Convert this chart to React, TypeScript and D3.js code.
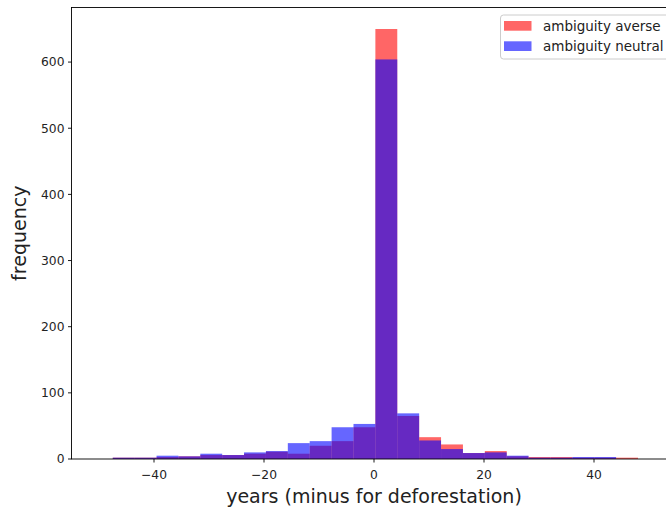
import * as d3 from "d3";

// histogram bin edges (shared by both series)
const binEdges = [
  -47.5, -43.52, -39.54, -35.56, -31.58, -27.6, -23.63, -19.65, -15.67, -11.69,
  -7.71, -3.73, 0.25, 4.23, 8.21, 12.19, 16.17, 20.15, 24.13, 28.1, 32.08,
  36.06, 40.04, 44.02, 48.0,
];
const averseCounts = [2, 2, 3, 4, 6, 6, 8, 11, 8, 20, 27, 48, 650, 65, 33, 22, 9, 12, 4, 3, 3, 2, 2, 2];
const neutralCounts = [2, 2, 5, 4, 8, 6, 10, 12, 24, 27, 48, 53, 604, 69, 28, 15, 9, 10, 5, 2, 2, 3, 3, 0];
const xTicks = [-40, -20, 0, 20, 40];
const yTicks = [0, 100, 200, 300, 400, 500, 600];

const series = [
  { name: "ambiguity averse", color: "red", counts: averseCounts },
  { name: "ambiguity neutral", color: "blue", counts: neutralCounts },
];

const W = 666;
const H = 507;
const margin = { left: 71.5, top: 7.5, right: 676.5, bottom: 459 };
const font = "DejaVu Sans, sans-serif";

export default function App() {
  const x = d3.scaleLinear().domain([-55, 55]).range([margin.left, margin.right]);
  const y = d3.scaleLinear().domain([0, 682.5]).range([margin.bottom, margin.top]);

  return (
    <svg width={W} height={H} style={{ position: "absolute", left: 0, top: 0 }} fontFamily={font}>
      <rect width={W} height={H} fill="white" />
      {series.map((s) => (
        <g key={s.name} fill={s.color} fillOpacity={0.6}>
          {s.counts.map((c, i) =>
            c > 0 ? (
              <rect
                key={i}
                x={x(binEdges[i])}
                width={x(binEdges[i + 1]) - x(binEdges[i])}
                y={y(c)}
                height={y(0) - y(c)}
              />
            ) : null
          )}
        </g>
      ))}

      {/* frame */}
      <rect
        x={margin.left}
        y={margin.top}
        width={margin.right - margin.left}
        height={margin.bottom - margin.top}
        fill="none"
        stroke="black"
        strokeWidth={0.9}
      />

      {/* x axis */}
      {xTicks.map((t) => (
        <g key={t} transform={`translate(${x(t)},${margin.bottom})`}>
          <line y2={3.5} stroke="black" strokeWidth={0.9} />
          <text y={20} textAnchor="middle" fontSize={12.3} fill="#222">
            {t < 0 ? `\u2212${Math.abs(t)}` : t}
          </text>
        </g>
      ))}
      {/* y axis */}
      {yTicks.map((t) => (
        <g key={t} transform={`translate(${margin.left},${y(t)})`}>
          <line x2={-3.5} stroke="black" strokeWidth={0.9} />
          <text x={-7} dy="0.35em" textAnchor="end" fontSize={12.3} fill="#222">
            {t}
          </text>
        </g>
      ))}

      <text x={(margin.left + margin.right) / 2} y={503} textAnchor="middle" fontSize={19} fill="#222">
        years (minus for deforestation)
      </text>
      <text
        transform={`translate(26,${(margin.top + margin.bottom) / 2}) rotate(-90)`}
        textAnchor="middle"
        fontSize={19}
        fill="#222"
      >
        frequency
      </text>

      {/* legend */}
      <g transform="translate(500,15)">
        <rect x={0.5} y={0} width={190} height={44} rx={3} fill="white" fillOpacity={0.8} stroke="#cccccc" />
        {series.map((s, i) => (
          <g key={s.name} transform={`translate(0,${i * 20.3})`}>
            <rect x={4} y={6} width={27.5} height={9.7} fill={s.color} fillOpacity={0.6} />
            <text x={43} y={15.6} fontSize={13.5} fill="#222">
              {s.name}
            </text>
          </g>
        ))}
      </g>
    </svg>
  );
}
